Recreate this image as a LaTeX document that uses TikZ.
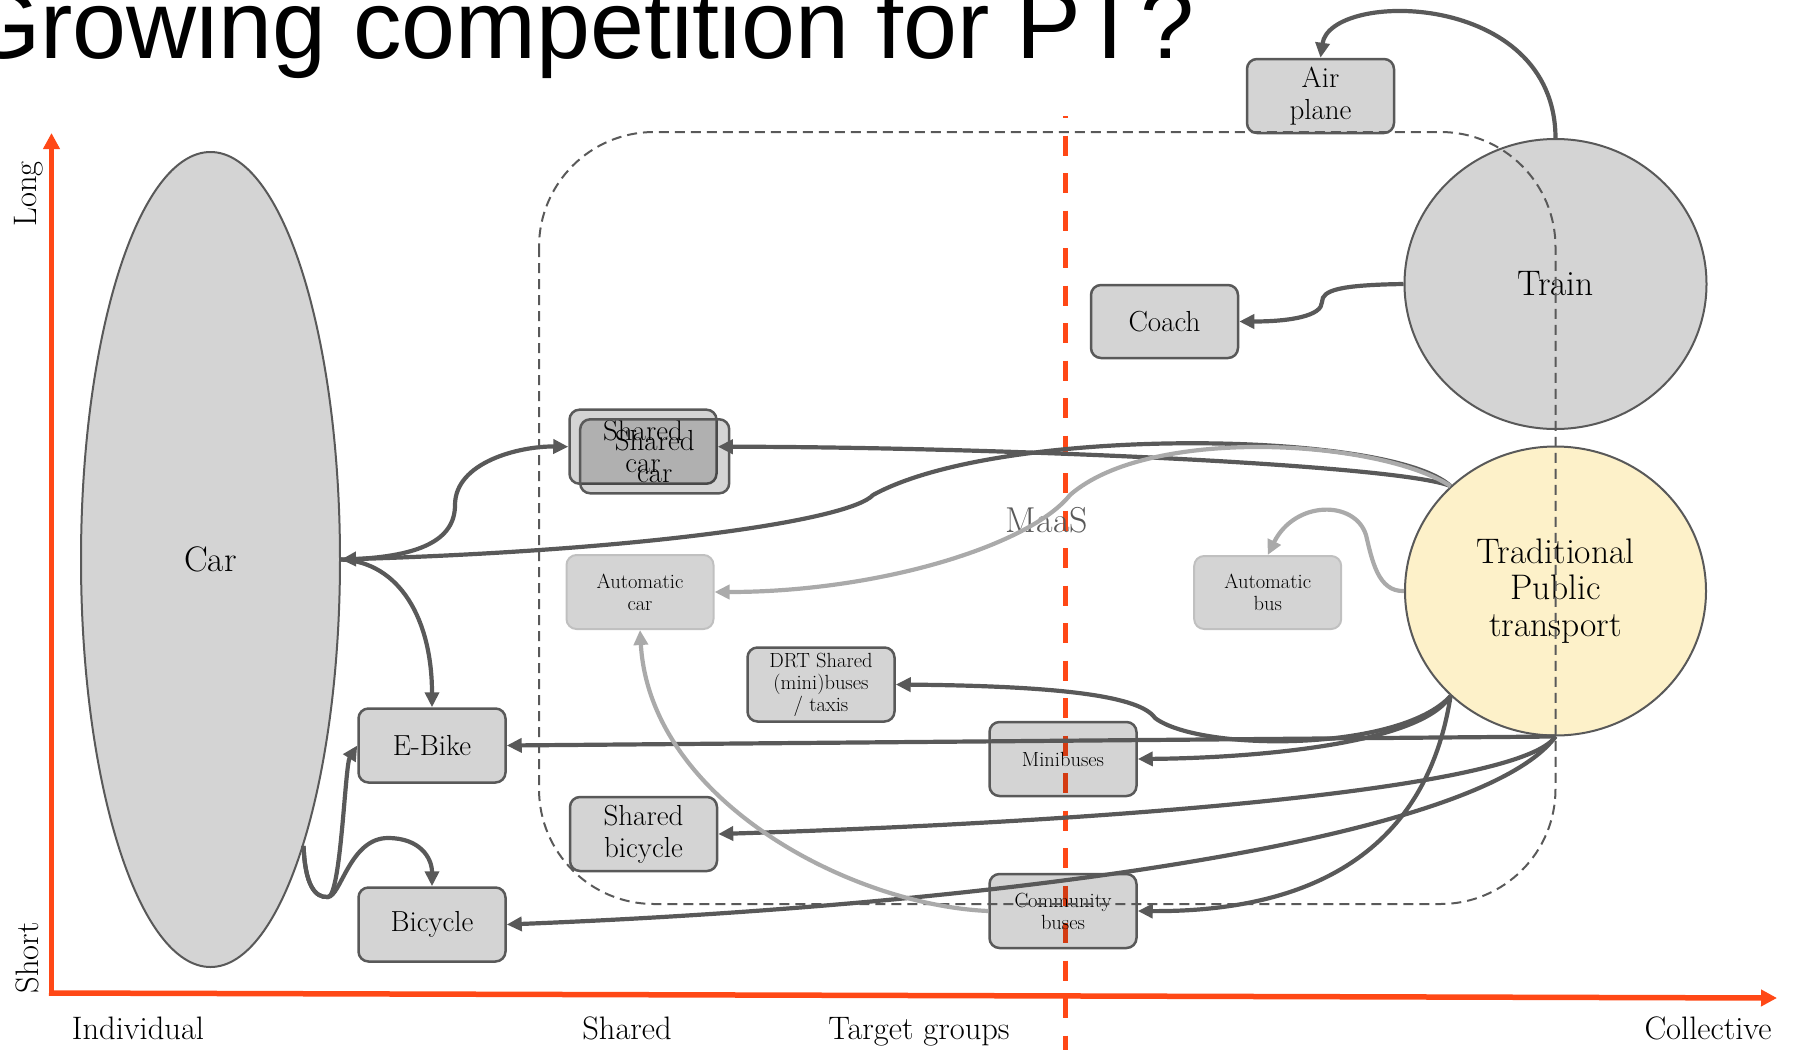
\documentclass[tikz,border=0pt]{standalone}
\usepackage{fontspec}
\newfontfamily\titlefont{Liberation Sans}
\usepackage{xcolor}
\usetikzlibrary{shapes.geometric,arrows.meta}

\definecolor{axisred}{RGB}{255,72,22}
\definecolor{edgegray}{RGB}{89,89,89}
\definecolor{lightedge}{RGB}{170,170,170}
\definecolor{lightborder}{RGB}{192,192,192}
\definecolor{modegray}{RGB}{212,212,212}
\definecolor{ptyellow}{RGB}{253,241,201}

\begin{document}
\begin{tikzpicture}[x=1pt, y=-1pt,
    modebox/.style={rectangle, rounded corners=10pt, draw=edgegray, line width=2.5pt, fill=black, fill opacity=0.17, text opacity=1, minimum width=147pt, minimum height=74pt, inner sep=2pt, align=center, font=\fontsize{29}{32}\selectfont},
    smalltext/.style={font=\fontsize{20.5}{22}\selectfont},
    lightbox/.style={modebox, smalltext, draw=lightborder, line width=2pt},
    ring/.style={ellipse, draw=edgegray, line width=2pt, fill=modegray, inner sep=0pt, align=center, font=\fontsize{35.5}{36.7}\selectfont},
    axisline/.style={draw=axisred, line width=5.5pt, -{Triangle[length=16pt,width=16pt]}},
    axislabel/.style={inner sep=0pt, font=\fontsize{32.5}{36}\selectfont},
    link/.style={draw=edgegray, line width=4.2pt, -{Triangle[length=15pt,width=14pt]}},
    lightlink/.style={link, draw=lightedge},
]
\clip (0,0) rectangle (1794,1050);

% Axes
\draw[axisline] (51.5,996) -- (51.5,133);
\draw[axisline] (49,993) -- (1777,998);
\node[axislabel, rotate=90] (long) at (29,194) {Long};
\node[axislabel, rotate=90] (short) at (27,958) {Short};
\node[axislabel, anchor=base] (individual) at (138,1039) {Individual};
\node[axislabel, anchor=base] (shared) at (627,1039) {Shared};
\node[axislabel, anchor=base] (target) at (919,1039) {Target groups};
\node[axislabel, anchor=base] (collective) at (1708,1039) {Collective};

% Target group border
\draw[axisred, line width=5pt, dash pattern=on 20pt off 17.5pt, dash phase=18pt] (1065,116) -- (1065,1050);

% Individual modes
\node[ring, minimum width=259pt, minimum height=815pt] (car) at (210.5,559.5) {Car};
\node[modebox] (ebike) at (432,745.5) {E-Bike};
\node[modebox] (bicycle) at (432,924.5) {Bicycle};

% Shared modes
\node[modebox] (sc1) at (643,446.7) {Shared\\car};
\node[modebox, minimum width=149pt] (sc2) at (654.7,456.3) {Shared\\car};
\node[lightbox] (autocar) at (640,592) {Automatic\\car};
\node[modebox, smalltext] (drt) at (821,684.5) {DRT Shared\\(mini)buses\\/ taxis};
\node[modebox] (sbike) at (643.5,834) {Shared\\bicycle};
\node[modebox, smalltext] (minibus) at (1063,759) {Minibuses};
\node[modebox, smalltext] (community) at (1063,911) {Community\\buses};
\node[text=edgegray, font=\fontsize{36}{40}\selectfont] (maas) at (1047,520) {MaaS};

% Collective modes
\node[modebox] (air) at (1320.5,96) {Air\\plane};
\node[modebox, minimum height=73pt] (coach) at (1164.5,321.5) {Coach};
\node[lightbox, minimum height=73pt] (autobus) at (1267.7,592.5) {Automatic\\bus};
\node[ring, minimum width=302pt, minimum height=290pt] (train) at (1555.5,284) {Train};
\node[ring, fill=ptyellow, minimum width=301pt, minimum height=289pt] (tpt) at (1555.5,591) {Traditional\\Public\\transport};

% MaaS area
\draw[edgegray, line width=2pt, dash pattern=on 10pt off 6pt, rounded corners=115pt] (539,132) rectangle (1555.5,904);

% From train
\draw[link] (train.north) .. controls (1555,-10) and (1330,-10) .. (air.north);
\draw[link] (train.west) .. controls (1340,285) and (1322,290) .. (1322,302) .. controls (1322,316) and (1290,321.5) .. (coach.east);

% From car
\draw[link] (car.east) .. controls (420,558) and (455,540) .. (455,505) .. controls (455,462) and (520,446) .. (sc1.west);
\draw[link] (car.east) .. controls (400,562) and (432,620) .. (ebike.north);
\draw[link] (car.-72) .. controls (305,885) and (315,898) .. (328,897) .. controls (341,896) and (345,765) .. (ebike.west);
\draw[link] (car.-72) .. controls (305,885) and (315,898) .. (328,897) .. controls (341,896) and (350,838) .. (388,838) .. controls (420,838) and (432,858) .. (bicycle.north);

% From traditional public transport
\draw[link] (tpt.135) .. controls (1400,465) and (1000,447) .. (sc1.east);
\draw[link] (tpt.135) .. controls (1390,430) and (1000,425) .. (873,495) .. controls (850,520) and (650,550) .. (car.east);
\draw[lightlink] (tpt.135) .. controls (1380,440) and (1150,425) .. (1070,495) .. controls (1030,545) and (880,592) .. (autocar.east);
\draw[lightlink] (tpt.west) .. controls (1378,592) and (1372,560) .. (1366,535) .. controls (1355,500) and (1295,500) .. (autobus.north);
\draw[link] (tpt.south) -- (ebike.east);
\draw[link] (tpt.225) .. controls (1400,752) and (1200,752) .. (1155,718) .. controls (1140,696) and (1060,686) .. (drt.east);
\draw[link] (tpt.225) .. controls (1420,745) and (1250,758) .. (minibus.east);
\draw[link] (tpt.225) .. controls (1425,860) and (1300,912) .. (community.east);
\draw[link] (tpt.south) .. controls (1520,790) and (1100,822) .. (sbike.east);
\draw[link] (tpt.south) .. controls (1480,840) and (1000,905) .. (bicycle.east);
\draw[lightlink] (community.west) .. controls (850,905) and (650,800) .. (autocar.south);

% Title
\node[anchor=base west, inner sep=0pt, font=\titlefont\fontsize{97}{97}\selectfont] (title) at (-35,58) {Growing competition for PT?};
\end{tikzpicture}
\end{document}
